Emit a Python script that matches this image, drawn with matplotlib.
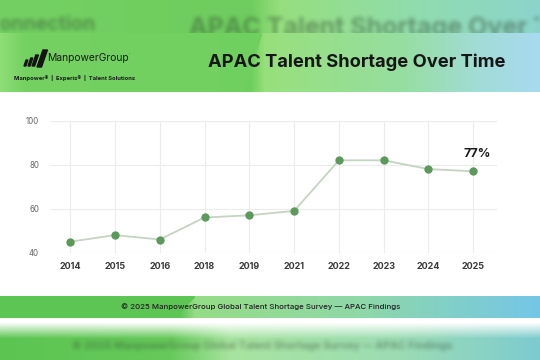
import numpy as np
import matplotlib
matplotlib.use("Agg")
import matplotlib.pyplot as plt
from matplotlib.patches import Polygon
from matplotlib.backends.backend_agg import FigureCanvasAgg

# ---- data ----
years = ["2014", "2015", "2016", "2018", "2019", "2021", "2022", "2023", "2024", "2025"]
shortage = [45, 48, 46, 56, 57, 59, 82, 82, 78, 77]
y_ticks = [40, 60, 80, 100]
last_label = "77%"
title = "APAC Talent Shortage Over Time"
footer = "© 2025 ManpowerGroup Global Talent Shortage Survey — APAC Findings"

plt.rcParams['font.family'] = ['Inter', 'DejaVu Sans']

W, H = 540, 360

# ---- background image ----
img = np.ones((H, W, 3))

def hexrgb(h):
    h = h.lstrip('#')
    return np.array([int(h[i:i+2], 16) / 255 for i in (0, 2, 4)])

def hgrad(stops):
    pos = [p for p, _ in stops]
    cols = np.array([hexrgb(c) for _, c in stops])
    out = np.zeros((W, 3))
    for k in range(3):
        out[:, k] = np.interp(np.arange(W), pos, cols[:, k])
    return out

head = hgrad([(0, '#86dc70'), (20, '#72d161'), (250, '#6ccf5c'), (265, '#98e07c'),
              (400, '#96dea0'), (480, '#a2dcd8'), (540, '#a8daf0')])
headleft = hgrad([(0, '#8fdd76'), (25, '#74d162'), (540, '#6ccf5c')])
top = hgrad([(0, '#74d062'), (250, '#6ecd5e'), (280, '#96df7e'), (420, '#90dcb0'), (540, '#8cd4cc')])
for y in range(0, 33):
    img[y] = top
for y in range(33, 92):
    row = head.copy()
    xd = 262 - (y - 33) * 0.3
    mask = np.arange(W) < xd
    row[mask] = headleft[mask]
    img[y] = row

foot = hgrad([(0, '#5cc452'), (180, '#5fc655'), (195, '#96dd86'), (360, '#8fd8a8'), (540, '#74c6e8')])
for y in range(296, 318):
    row = foot.copy()
    xd = 195 - (y - 296) * 0.9
    row[np.arange(W) < xd] = hexrgb('#5dc553')
    img[y] = row

bot = hgrad([(0, '#5cc552'), (170, '#66c95a'), (230, '#a8e4a0'), (400, '#9cdcb4'), (540, '#7ccbd0')])
for y in range(318, 360):
    t = np.clip((y - 322) / 16, 0, 1)
    img[y] = (1 - t) * np.ones(3) + t * bot

# blurred text hints rendered offscreen
def text_mask(items):
    f = plt.figure(figsize=(5.4, 3.6), dpi=100)
    f.patch.set_alpha(0)
    for (px, py, s, fs) in items:
        f.text(px / W, 1 - py / H, s, fontsize=fs, fontweight='bold', color='black',
               ha='center', va='center')
    c = FigureCanvasAgg(f)
    c.draw()
    a = np.asarray(c.buffer_rgba())[:, :, 3].astype(float) / 255
    plt.close(f)
    return a

def blur(a, r):
    k = np.ones(2 * r + 1) / (2 * r + 1)
    for _ in range(2):
        a = np.apply_along_axis(lambda v: np.convolve(v, k, mode='same'), 1, a)
        a = np.apply_along_axis(lambda v: np.convolve(v, k, mode='same'), 0, a)
    return a

m = text_mask([(392, 27, title, 18), (42, 25, "connection", 14),
               (262, 346, footer, 7.6)])
m = blur(m, 2)
m[33:330] = 0
dark = hexrgb('#2f4a30')
alpha = (m * 0.45)[:, :, None]
img = img * (1 - alpha) + dark * alpha

fig = plt.figure(figsize=(5.4, 3.6), dpi=100)
bg = fig.add_axes([0, 0, 1, 1])
bg.imshow(img, extent=(0, W, H, 0), aspect='auto', interpolation='bilinear')
bg.set_xlim(0, W)
bg.set_ylim(H, 0)
bg.axis('off')

# header text
bg.text(505, 62, title, fontsize=13.2, fontweight='bold', color='#161616', ha='right', va='center')
bg.text(47, 58, "ManpowerGroup", fontsize=7.4, color='#1c1c1c', ha='left', va='center')
bg.text(129, 54, "·", fontsize=4, color='#1c1c1c', ha='left', va='center')
bg.text(14, 78, "Manpower®  |  Experis®  |  Talent Solutions", fontsize=4.2, fontweight='bold',
        color='#1c1c1c', ha='left', va='center')
for x0, w, hgt in [(24, 1.8, 6), (28, 2.0, 8), (32, 2.6, 11), (37, 4.5, 17)]:
    yb = 66 if hgt < 17 else 67
    poly = Polygon([(x0, yb), (x0 + w, yb), (x0 + w + hgt * 0.35, yb - hgt), (x0 + hgt * 0.35, yb - hgt)],
                   closed=True, color='#141414')
    bg.add_patch(poly)

bg.text(261, 307, footer, fontsize=5.65, fontweight='medium', color='#222222', ha='center', va='center')

# ---- chart ----
ax = fig.add_axes([50 / W, 1 - 252.7 / H, (497 - 50) / W, (252.7 - 120.7) / H])
ax.patch.set_alpha(0)
x = np.arange(len(years))
ax.plot(x, shortage, color='#c4d4c1', lw=1.3, zorder=2)
ax.plot(x, shortage, 'o', color='#5c9a5c', ms=6, zorder=3, markeredgewidth=0)
ax.set_xlim(-0.45, len(years) - 0.47)
ax.set_ylim(40, 100)
ax.set_yticks(y_ticks)
ax.set_xticks(x)
ax.set_xticklabels(years, fontweight='bold', fontsize=6.5, color='#3a3a3a')
ax.tick_params(axis='y', labelsize=5.7, labelcolor='#666666', length=0, pad=8)
ax.tick_params(axis='x', length=0, pad=7)
ax.grid(True, color='#ececec', lw=0.8)
for s in ax.spines.values():
    s.set_visible(False)
ax.annotate(last_label, (x[-1], shortage[-1]), xytext=(3, 8), textcoords='offset points',
            ha='center', va='bottom', fontsize=9, fontweight='bold', color='#1a1a1a')

fig.savefig("out.png", dpi=100)
